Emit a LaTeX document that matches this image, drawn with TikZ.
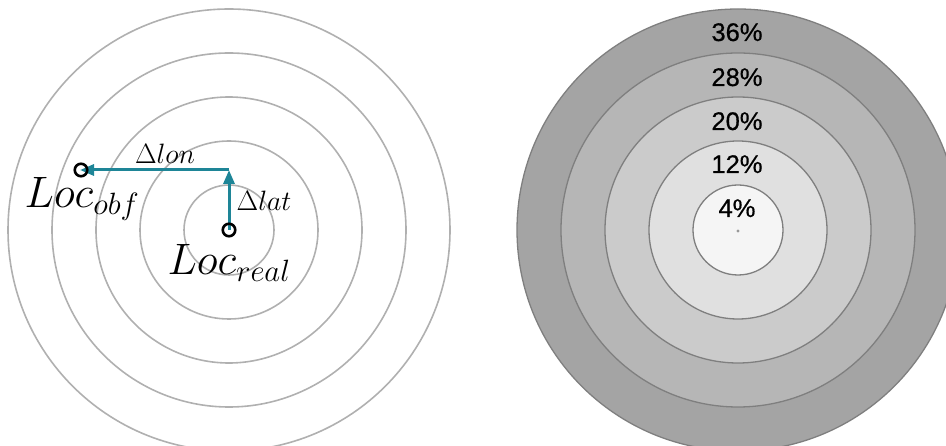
\RequirePackage{fix-cm}
\documentclass[tikz,border=0pt]{standalone}
\usepackage{fontspec}
\newfontfamily\pctfont[FakeBold=0.6]{Liberation Sans}
\usetikzlibrary{arrows.meta,backgrounds}
\definecolor{tealarrow}{HTML}{1E8597}
\definecolor{ringlight}{HTML}{B0B0B0}
\definecolor{ringdark}{HTML}{7F7F7F}
\definecolor{fillA}{HTML}{A4A4A4}
\definecolor{fillB}{HTML}{B6B6B6}
\definecolor{fillC}{HTML}{CBCBCB}
\definecolor{fillD}{HTML}{E0E0E0}
\definecolor{fillE}{HTML}{F5F5F5}
\begin{document}
\begin{tikzpicture}[x=1pt,y=-1pt,
  ringline/.style={draw=ringlight, line width=1.6pt},
  band/.style={draw=ringdark, line width=1.3pt},
  marker/.style={circle, draw=black, line width=2.6pt, minimum size=12.5pt, inner sep=0pt},
  arr/.style={draw=tealarrow, line width=3pt, -{Triangle[length=14pt,width=11pt]}},
  loclabel/.style={anchor=base, inner sep=0pt, font=\fontsize{44}{48}\selectfont},
  dlabel/.style={anchor=base, inner sep=0pt, font=\fontsize{28}{32}\selectfont},
  pct/.style={anchor=base, inner sep=0pt, font=\pctfont\fontsize{25.5}{29}\selectfont}]
\useasboundingbox (0,0) rectangle (946,446);
\clip (0,0) rectangle (946,446);
% left panel
\node[marker] (real) at (229,230) {};
\node[marker] (obf) at (81,170) {};
\coordinate (corner) at (229,170);
\begin{scope}[on background layer]
  \foreach \r in {221,177,133,89,45}
    \draw[ringline] (229,230) circle[radius=\r];
  \draw[arr] (real.center) -- (corner);
  \draw[arr, shorten >=-1pt] (corner) -- (obf.center);
\end{scope}
\node[loclabel] (lreal) at (229,275) {$Loc_{real}$};
\node[loclabel] (lobf) at (82,208) {$Loc_{obf}$};
\node[dlabel] (dlon) at (165,164) {$\Delta lon$};
\node[dlabel] (dlat) at (264,211) {$\Delta lat$};
% right panel
\filldraw[band, fill=fillA] (738,230) circle[radius=221];
\filldraw[band, fill=fillB] (738,230) circle[radius=177];
\filldraw[band, fill=fillC] (738,230) circle[radius=133];
\filldraw[band, fill=fillD] (738,230) circle[radius=89];
\filldraw[band, fill=fillE] (738,230) circle[radius=45];
\fill[ringdark!80] (738,231) circle[radius=1.6];
\node[pct] (p36) at (737,41) {36\%};
\node[pct] (p28) at (737,86) {28\%};
\node[pct] (p20) at (737,130) {20\%};
\node[pct] (p12) at (737,173) {12\%};
\node[pct] (p4) at (737,217) {4\%};
\end{tikzpicture}
\end{document}
